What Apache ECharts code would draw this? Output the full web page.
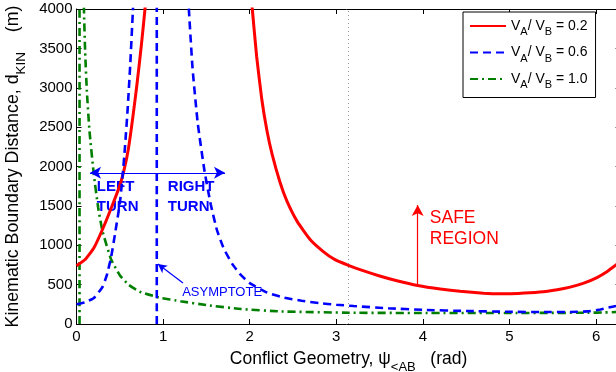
<!DOCTYPE html>
<html><head><meta charset="utf-8">
<script src="https://cdn.jsdelivr.net/npm/echarts@6/dist/echarts.min.js"></script>
<style>html,body{margin:0;padding:0;background:#fff}#c{width:616px;height:372px}</style>
</head><body><div id="c"></div>
<script>
const FONT = 'Liberation Sans, Arial, Helvetica, sans-serif';
const X_MIN = 0, X_MAX = 2 * Math.PI, X_STEP = 1;
const Y_MIN = 0, Y_MAX = 4000, Y_STEP = 500;
const SERIES_NAMES = ['0.2', '0.6', '1.0'];
const COLORS = ['#ff0000', '#0000ff', '#007f00'];
const PI_LINE_X = Math.PI;

// V_A/V_B = 0.2 (red)
const RED_L_X = [0, 0.1, 0.2, 0.3, 0.4, 0.5, 0.55, 0.6, 0.65, 0.7, 0.75, 0.79, 0.83];
const RED_L_Y = [740, 820, 965, 1200, 1470, 1760, 1960, 2230, 2620, 3060, 3550, 3990, 4500];
const RED_R_X = [1.99, 2.03, 2.08, 2.14, 2.2, 2.26, 2.35, 2.43, 2.55, 2.7, 2.85, 2.98, 3.14, 3.3, 3.5, 3.7, 3.94, 4.2, 4.43, 4.7, 4.89, 5.1, 5.35, 5.55, 5.7, 5.85, 6.01, 6.12, 6.23, 6.2832];
const RED_R_Y = [4500, 4000, 3400, 2850, 2450, 2150, 1800, 1560, 1300, 1070, 920, 820, 745, 680, 610, 550, 490, 445, 415, 392, 385, 388, 405, 435, 468, 515, 590, 660, 750, 790];

// V_A/V_B = 0.6 (blue)
const BLUE_L_X = [0, 0.1, 0.2, 0.3, 0.35, 0.4, 0.45, 0.5, 0.53, 0.56, 0.59, 0.62, 0.65, 0.67];
const BLUE_L_Y = [250, 275, 330, 470, 620, 850, 1180, 1530, 1850, 2250, 2720, 3280, 3950, 4450];
const BLUE_ASYM_X = [0.927, 0.927];
const BLUE_ASYM_Y = [0, 4500];
const BLUE_R_X = [1.27, 1.3, 1.34, 1.4, 1.48, 1.55, 1.62, 1.7, 1.8, 1.9, 2.0, 2.2, 2.4, 2.6, 2.8, 3.0, 3.2, 3.6, 4.0, 4.5, 5.0, 5.4, 5.7, 5.9, 6.05, 6.12, 6.23, 6.2832];
const BLUE_R_Y = [4500, 3950, 3250, 2550, 1930, 1520, 1200, 960, 760, 620, 520, 400, 335, 295, 265, 245, 228, 200, 180, 165, 155, 152, 153, 160, 185, 203, 229, 245];

// V_A/V_B = 1.0 (green)
const GREEN_ASYM_X = [0.035, 0.035];
const GREEN_ASYM_Y = [0, 4500];
const GREEN_X = [0.075, 0.087, 0.1, 0.12, 0.15, 0.2, 0.25, 0.3, 0.4, 0.5, 0.6, 0.73, 0.96, 1.2, 1.5, 1.9, 2.35, 3.16, 4.0, 5.0, 5.9, 6.1, 6.23, 6.2832];
const GREEN_Y = [4500, 3950, 3450, 2950, 2450, 1900, 1480, 1180, 820, 620, 500, 410, 335, 290, 240, 190, 160, 143, 140, 140, 143, 147, 152, 160];

// annotations (data coordinates)
const TURN_ARROW = [[0.156, 1920], [1.715, 1920]];
const ASYM_ARROW = [[1.23, 521], [0.94, 762]];
const SAFE_ARROW = [[3.94, 483], [3.94, 1511]];
const LEFT_TURN_POS = [0.235, 1920];
const RIGHT_TURN_POS = [1.055, 1920];
const ASYM_TEXT_POS = [1.22, 406];
const SAFE_TEXT_POS = [4.08, 1480];

function pairs(xs, ys) { return xs.map((x, i) => [x, ys[i]]); }
const BREAK = [['-', '-']];

const chart = echarts.init(document.getElementById('c'), null, {renderer: 'canvas'});

const axisCommon = {
  axisLine: {show: true, onZero: false, lineStyle: {color: '#000', width: 1}},
  axisTick: {show: true, inside: true, length: 5, lineStyle: {color: '#000'}},
  splitLine: {show: false}
};

const redData = pairs(RED_L_X, RED_L_Y).concat(BREAK, pairs(RED_R_X, RED_R_Y));
const blueData = pairs(BLUE_L_X, BLUE_L_Y).concat(BREAK, pairs(BLUE_ASYM_X, BLUE_ASYM_Y), BREAK, pairs(BLUE_R_X, BLUE_R_Y));
const greenData = pairs(GREEN_ASYM_X, GREEN_ASYM_Y).concat(BREAK, pairs(GREEN_X, GREEN_Y));

const option = {
  animation: false,
  backgroundColor: '#fff',
  textStyle: {fontFamily: FONT},
  grid: {left: 76.5, right: -4.6, top: 9, bottom: 48, containLabel: false, outerBoundsMode: 'none'},
  xAxis: [
    Object.assign({
      type: 'value', min: X_MIN, max: X_MAX, interval: X_STEP, position: 'bottom',
      axisLabel: {color: '#000', fontSize: 15, fontFamily: FONT, margin: 5, showMaxLabel: false},
      name: 'Conflict Geometry, ψ{sub|<AB}   (rad)', nameLocation: 'middle', nameGap: 21,
      nameTextStyle: {color: '#000', fontSize: 17.5, fontFamily: FONT,
        rich: {sub: {fontSize: 13, fontFamily: FONT, color: '#000', padding: [16, 0, 0, 0]}}}
    }, axisCommon),
    Object.assign({
      type: 'value', min: X_MIN, max: X_MAX, interval: X_STEP, position: 'top',
      axisLabel: {show: false}
    }, axisCommon)
  ],
  yAxis: [
    Object.assign({
      type: 'value', min: Y_MIN, max: Y_MAX, interval: Y_STEP, position: 'left',
      axisLabel: {color: '#000', fontSize: 15, fontFamily: FONT, margin: 4, formatter: v => String(v)},
      name: 'Kinematic Boundary Distance, d{sub|KIN}    (m)', nameLocation: 'middle', nameGap: 45, nameRotate: 90,
      nameTextStyle: {color: '#000', fontSize: 17.8, fontFamily: FONT,
        rich: {sub: {fontSize: 13.5, fontFamily: FONT, color: '#000', padding: [16, 0, 0, 0]}}}
    }, axisCommon),
    Object.assign({
      type: 'value', min: Y_MIN, max: Y_MAX, interval: Y_STEP, position: 'right',
      axisLabel: {show: false}
    }, axisCommon)
  ],
  legend: {
    orient: 'vertical', left: 463, top: 12, width: 150,
    padding: [7, 8, 7, 6], itemGap: 8, itemWidth: 36, itemHeight: 12,
    backgroundColor: '#fff', borderColor: '#000', borderWidth: 1,
    data: SERIES_NAMES,
    itemStyle: {opacity: 0},
    formatter: n => 'V{sub|A}/ V{sub|B} = ' + n,
    textStyle: {color: '#000', fontSize: 14, fontFamily: FONT,
      rich: {sub: {fontSize: 11, fontFamily: FONT, color: '#000', padding: [12, 0, 0, 0]}}}
  },
  series: [
    {
      name: SERIES_NAMES[0], type: 'line', data: redData, symbol: 'none', clip: true,
      connectNulls: false, z: 3, smooth: 0.15,
      lineStyle: {color: COLORS[0], width: 3},
      itemStyle: {color: COLORS[0]},
      markLine: {
        silent: true, symbol: ['none', 'arrow'], symbolSize: [9, 11], label: {show: false},
        lineStyle: {color: COLORS[0], width: 1.2, type: 'solid'},
        data: [[{coord: SAFE_ARROW[0]}, {coord: SAFE_ARROW[1]}]]
      }
    },
    {
      name: SERIES_NAMES[1], type: 'line', data: blueData, symbol: 'none', clip: true,
      connectNulls: false, z: 4, smooth: 0.15,
      lineStyle: {color: COLORS[1], width: 2.6, type: [8, 5]},
      itemStyle: {color: COLORS[1]},
      markLine: {
        silent: true, label: {show: false}, symbolSize: [9, 11],
        lineStyle: {color: COLORS[1], width: 1.2, type: 'solid'},
        data: [
          [{coord: TURN_ARROW[0], symbol: 'arrow'}, {coord: TURN_ARROW[1], symbol: 'arrow'}],
          [{coord: ASYM_ARROW[0], symbol: 'none'}, {coord: ASYM_ARROW[1], symbol: 'arrow', symbolSize: [7, 9]}]
        ]
      }
    },
    {
      name: SERIES_NAMES[2], type: 'line', data: greenData, symbol: 'none', clip: true,
      connectNulls: false, z: 2, smooth: 0.15,
      lineStyle: {color: COLORS[2], width: 2.6, type: [8, 4, 2, 4]},
      itemStyle: {color: COLORS[2]},
      markLine: {
        silent: true, symbol: 'none', label: {show: false},
        lineStyle: {color: '#999', width: 1, type: [1, 3]},
        data: [{xAxis: PI_LINE_X}]
      }
    }
  ]
};
chart.setOption(option);

function px(p) { return chart.convertToPixel({xAxisIndex: 0, yAxisIndex: 0}, p); }
const lt = px(LEFT_TURN_POS), rt = px(RIGHT_TURN_POS), at = px(ASYM_TEXT_POS), st = px(SAFE_TEXT_POS);
chart.setOption({
  graphic: [
    {type: 'text', x: lt[0], y: lt[1] + 4, style: {text: 'LEFT\nTURN', fill: COLORS[1], font: 'bold 15px ' + FONT, lineHeight: 20, textVerticalAlign: 'top'}},
    {type: 'text', x: rt[0], y: rt[1] + 4, style: {text: 'RIGHT\nTURN', fill: COLORS[1], font: 'bold 15px ' + FONT, lineHeight: 20, textVerticalAlign: 'top'}},
    {type: 'text', x: at[0], y: at[1], style: {text: 'ASYMPTOTE', fill: COLORS[1], font: '13px ' + FONT, textVerticalAlign: 'middle'}},
    {type: 'text', x: st[0], y: st[1], style: {text: 'SAFE\nREGION', fill: COLORS[0], font: '17.5px ' + FONT, lineHeight: 21, textVerticalAlign: 'top'}}
  ]
});
</script></body></html>
